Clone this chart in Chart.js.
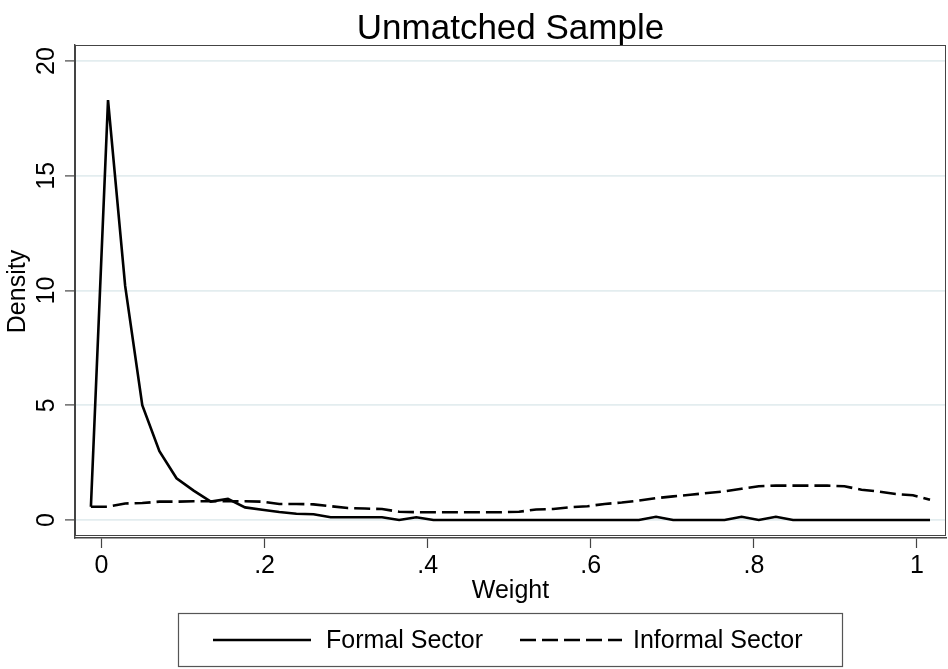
<!DOCTYPE html>
<html>
<head>
<meta charset="utf-8">
<title>Unmatched Sample</title>
<script src="https://cdn.jsdelivr.net/npm/chart.js@4.4.1/dist/chart.umd.min.js"></script>
<style>
  html, body { margin: 0; padding: 0; background: #fff; }
  #wrap { width: 948px; height: 669px; position: relative; }
</style>
</head>
<body>
<div id="wrap"><canvas id="chart"></canvas></div>
<script>
// --- DATA ---
const chartTitle = 'Unmatched Sample';
const xTitle = 'Weight';
const yTitle = 'Density';
const seriesNames = ['Formal Sector', 'Informal Sector'];

// kernel density evaluation points
const weightGrid = [
    -0.013, 0.008, 0.029, 0.050, 0.071, 0.092, 0.113, 0.134, 0.155, 0.176,
    0.197, 0.218, 0.239, 0.260, 0.281, 0.302, 0.323, 0.344, 0.365, 0.386,
    0.407, 0.428, 0.449, 0.470, 0.491, 0.512, 0.533, 0.554, 0.575, 0.596,
    0.617, 0.638, 0.659, 0.680, 0.701, 0.722, 0.743, 0.764, 0.785, 0.806,
    0.827, 0.848, 0.869, 0.890, 0.911, 0.932, 0.953, 0.974, 0.995, 1.016
];
const formalDensity = [
    0.58, 18.3, 10.2, 5.0, 3.0, 1.82, 1.28, 0.80, 0.92, 0.55,
    0.45, 0.35, 0.27, 0.25, 0.12, 0.12, 0.12, 0.12, 0.0, 0.12,
    0, 0, 0, 0, 0, 0, 0, 0, 0, 0,
    0, 0, 0, 0.14, 0, 0, 0, 0, 0.14, 0,
    0.14, 0, 0, 0, 0, 0, 0, 0, 0, 0
];
const informalDensity = [
    0.58, 0.58, 0.72, 0.74, 0.80, 0.80, 0.82, 0.82, 0.82, 0.82,
    0.80, 0.70, 0.70, 0.68, 0.60, 0.52, 0.50, 0.48, 0.36, 0.34,
    0.34, 0.34, 0.34, 0.34, 0.34, 0.36, 0.46, 0.48, 0.56, 0.60,
    0.70, 0.76, 0.85, 0.95, 1.03, 1.10, 1.18, 1.25, 1.36, 1.47,
    1.50, 1.50, 1.50, 1.50, 1.47, 1.32, 1.24, 1.13, 1.08, 0.88
];
const xTicks = [0, 0.2, 0.4, 0.6, 0.8, 1];
const yTicks = [0, 5, 10, 15, 20];

// --- STYLE ---
const FONT = '"Liberation Sans", Arial, Helvetica, sans-serif';
const INK = '#000000';
const GRID = '#e3edef';
const FRAME = '#444444';

function toPoints(xs, ys) {
    return xs.map((x, i) => ({ x: x, y: ys[i] }));
}

function fmtWeight(v) {
    if (v === 0 || v === 1) return String(v);
    return String(v).replace(/^0/, '');
}

// title, plot region outline and the boxed legend (Stata look)
const stataDecor = {
    id: 'stataDecor',
    afterDraw(chart) {
        const c = chart.ctx;
        const a = chart.chartArea;
        c.save();

        // title
        c.fillStyle = INK;
        c.font = '35px ' + FONT;
        c.textAlign = 'center';
        c.textBaseline = 'alphabetic';
        c.fillText(chartTitle, (a.left + a.right) / 2, 39);

        // plot region outline
        c.strokeStyle = FRAME;
        c.lineWidth = 1;
        c.strokeRect(a.left + 0.5, a.top + 0.5, a.right - a.left - 1, a.bottom - a.top - 3);

        // legend
        const lx = 178, ly = 613, lw = 664, lh = 53;
        c.strokeStyle = '#555555';
        c.lineWidth = 1.2;
        c.strokeRect(lx + 0.5, ly + 0.5, lw, lh);

        const midY = ly + 27;
        const ds = chart.data.datasets;
        const items = [
            { x0: 213, x1: 311, tx: 326, d: ds[0] },
            { x0: 520, x1: 622, tx: 633, d: ds[1] }
        ];
        items.forEach(it => {
            c.beginPath();
            c.strokeStyle = it.d.borderColor;
            c.lineWidth = it.d.borderWidth;
            c.setLineDash(it.d.borderDash || []);
            c.moveTo(it.x0, midY);
            c.lineTo(it.x1, midY);
            c.stroke();
            c.setLineDash([]);
            c.fillStyle = INK;
            c.font = '25px ' + FONT;
            c.textAlign = 'left';
            c.textBaseline = 'middle';
            c.fillText(it.d.label, it.tx, midY + 1);
        });
        c.restore();
    }
};

const chartCtx = document.getElementById('chart').getContext('2d');
new Chart(chartCtx, {
    type: 'line',
    data: {
        datasets: [
            {
                label: seriesNames[0],
                data: toPoints(weightGrid, formalDensity),
                borderColor: INK,
                borderWidth: 2.6,
                pointRadius: 0,
                tension: 0,
                fill: false
            },
            {
                label: seriesNames[1],
                data: toPoints(weightGrid, informalDensity),
                borderColor: INK,
                borderWidth: 2.6,
                borderDash: [16, 6],
                pointRadius: 0,
                tension: 0,
                fill: false
            }
        ]
    },
    options: {
        responsive: true,
        maintainAspectRatio: false,
        animation: false,
        events: [],
        layout: { padding: { top: 45, right: 2, bottom: 59, left: 0 } },
        plugins: {
            legend: { display: false },
            title: { display: false },
            tooltip: { enabled: false }
        },
        scales: {
            x: {
                type: 'linear',
                min: -0.0325,
                max: 1.0356,
                afterBuildTicks: s => { s.ticks = xTicks.map(v => ({ value: v })); },
                afterFit: s => { s.height = 72; },
                grid: { drawOnChartArea: false, drawTicks: true, tickLength: 10, tickColor: FRAME, tickWidth: 1.2 },
                border: { display: true, color: FRAME, width: 1.4 },
                ticks: {
                    color: INK,
                    font: { family: FONT, size: 25 },
                    padding: 3,
                    maxRotation: 0,
                    callback: v => fmtWeight(v)
                },
                title: {
                    display: true,
                    text: xTitle,
                    color: INK,
                    font: { family: FONT, size: 25 },
                    padding: { top: 0, bottom: 4 }
                }
            },
            y: {
                type: 'linear',
                min: -0.784,
                max: 20.70,
                afterBuildTicks: s => { s.ticks = yTicks.map(v => ({ value: v })); },
                afterFit: s => { s.width = 75; },
                grid: { color: GRID, lineWidth: 1.8, drawTicks: true, tickLength: 10, tickColor: FRAME, tickWidth: 1.2 },
                border: { display: true, color: FRAME, width: 1.4 },
                ticks: {
                    color: INK,
                    font: { family: FONT, size: 25 },
                    padding: 4,
                    minRotation: 90,
                    maxRotation: 90,
                    crossAlign: 'center',
                    callback: v => String(v)
                },
                title: {
                    display: true,
                    text: yTitle,
                    color: INK,
                    font: { family: FONT, size: 25 },
                    padding: { top: 3.5, bottom: 0 }
                }
            }
        }
    },
    plugins: [stataDecor]
});
</script>
</body>
</html>
